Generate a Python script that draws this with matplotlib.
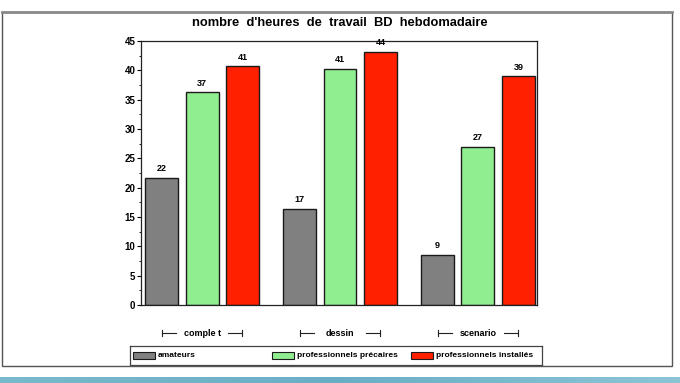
import matplotlib
matplotlib.use("Agg")
import matplotlib.pyplot as plt
from matplotlib.patches import Rectangle
from matplotlib.ticker import MultipleLocator
import numpy as np

# data
categories = ["comple t", "dessin", "scenario"]
series = ["amateurs", "professionnels précaires", "professionnels installés"]
amateurs = [21.7, 16.4, 8.5]
precaires = [36.25, 40.2, 26.9]
installes = [40.7, 43.1, 39.0]
labels_amateurs = ["22", "17", "9"]
labels_precaires = ["37", "41", "27"]
labels_installes = ["41", "44", "39"]
colors = ["#808080", "#90ee90", "#ff2000"]

plt.rcParams["font.family"] = ["Liberation Sans", "DejaVu Sans"]
plt.rcParams["font.weight"] = "bold"

W, H = 680, 383
fig = plt.figure(figsize=(W / 100, H / 100), dpi=100)

def fbox(x0, y0, x1, y1):
    # pixel box (top-left origin) -> figure fraction rect
    return [x0 / W, 1 - y1 / H, (x1 - x0) / W, (y1 - y0) / H]

# slide frame and bottom band
fig.patches.append(Rectangle((2 / W, 1 - 366 / H), 670 / W, 354 / H, transform=fig.transFigure,
                             fill=False, edgecolor="#555555", lw=1.0))
fig.add_artist(plt.Line2D([2 / W, 672 / W], [1 - 12 / H, 1 - 12 / H], transform=fig.transFigure,
                          color="#8a8a8a", lw=2.0))
band = fig.add_axes([0, 0, 1, 6 / H])
band.imshow(np.linspace(0, 1, 200)[None, :], aspect="auto", cmap=matplotlib.colors.LinearSegmentedColormap.from_list(
    "b", ["#7ab8cc", "#6aaec6", "#8cc4d6"]), extent=[0, 1, 0, 1])
band.axis("off")

ax = fig.add_axes(fbox(141, 41, 537, 305))

group_step = 3.4
width = 0.81
values = [amateurs, precaires, installes]
labels = [labels_amateurs, labels_precaires, labels_installes]
xg = np.arange(len(categories)) * group_step
for j, (vals, labs) in enumerate(zip(values, labels)):
    xs = xg + j
    ax.bar(xs, vals, width=width, color=colors[j], edgecolor="#1a1a1a", linewidth=1.0)
    for x, v, t in zip(xs, vals, labs):
        ax.text(x, v + 0.8, t, ha="center", va="bottom", fontsize=6.5, fontweight="bold")

ax.set_xlim(-0.51, xg[-1] + 2 + 0.46)
ax.set_ylim(0, 45)
ax.yaxis.set_major_locator(MultipleLocator(5))
ax.yaxis.set_minor_locator(MultipleLocator(2.5))
ax.set_xticks([])
ax.tick_params(axis="y", labelsize=7, length=3, width=0.8, pad=1)
ax.tick_params(axis="y", which="minor", length=1.5, width=0.6)
for lab in ax.get_yticklabels():
    lab.set_fontweight("bold")
for s in ax.spines.values():
    s.set_linewidth(0.9)
    s.set_color("#222222")

# group labels with brackets under the axis
tr = ax.get_xaxis_transform()
y_br = -28 / 264
for x, name in zip(xg + 1, categories):
    half = 0.99
    ax.plot([x - half, x - half + 0.35], [y_br, y_br], color="#222222", lw=0.8, transform=tr, clip_on=False)
    ax.plot([x + half - 0.35, x + half], [y_br, y_br], color="#222222", lw=0.8, transform=tr, clip_on=False)
    for xe in (x - half, x + half):
        ax.plot([xe, xe], [y_br - 0.012, y_br + 0.012], color="#222222", lw=0.8, transform=tr, clip_on=False)
    ax.text(x, y_br, name, ha="center", va="center", fontsize=6.5, fontweight="bold", transform=tr)

# title
fig.text(340 / W, 1 - 23 / H, "nombre  d'heures  de  travail  BD  hebdomadaire", ha="center", va="center",
         fontsize=9.3, fontweight="bold")

# legend box
lax = fig.add_axes(fbox(130, 346, 542, 365))
lax.set_xlim(130, 542)
lax.set_ylim(0, 1)
lax.set_xticks([])
lax.set_yticks([])
for s in lax.spines.values():
    s.set_linewidth(0.9)
    s.set_color("#444444")
sw_x = [133, 272, 411]
for x0, name, c in zip(sw_x, series, colors):
    lax.add_patch(Rectangle((x0, 0.33), 22, 0.34, facecolor=c, edgecolor="#1a1a1a", lw=0.8))
    lax.text(x0 + 25, 0.5, name, ha="left", va="center", fontsize=6.0, fontweight="bold")

fig.savefig("out.png", dpi=100)
